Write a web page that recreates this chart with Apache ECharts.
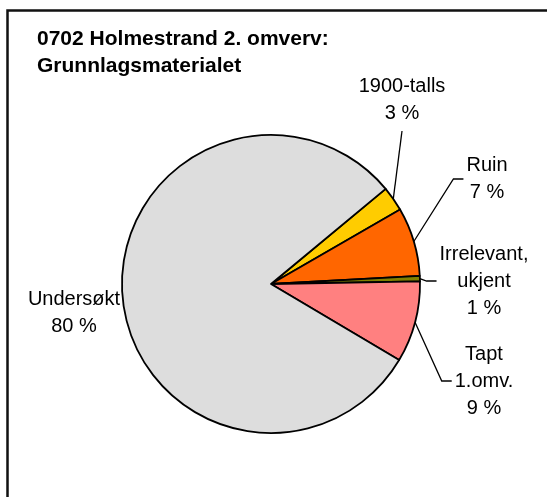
<!DOCTYPE html>
<html>
<head>
<meta charset="utf-8">
<script src="https://cdn.jsdelivr.net/npm/echarts@6/dist/echarts.min.js"></script>
<style>
  html, body { margin: 0; padding: 0; background: #fff; }
  #main { width: 547px; height: 497px; }
</style>
</head>
<body>
<div id="main"></div>
<script>
// data
var categories = ['1900-talls', 'Ruin', 'Irrelevant,\nukjent', 'Tapt\n1.omv.', 'Undersøkt'];
var shares = [2.7, 7.45, 0.6, 8.8, 80.45];
var colors = ['#FFCC00', '#FF6600', '#808000', '#FF8080', '#DDDDDD'];

// label placement (centre of each label block) and where the leader joins it
var labelX = [402, 487, 484, 484, 74];
var labelY = [100, 179, 281, 381, 313];
var joinSide = ['bottom', 'left', 'left', 'left', 'none'];

var font = '"Liberation Sans", Arial, sans-serif';

var myChart = echarts.init(document.getElementById('main'));

var seriesData = categories.map(function (name, i) {
  var item = { name: name, value: shares[i], itemStyle: { color: colors[i] } };
  if (joinSide[i] === 'none') item.labelLine = { show: false };
  return item;
});

option = {
  animation: false,
  backgroundColor: '#fff',
  title: {
    text: '0702 Holmestrand 2. omverv:\nGrunnlagsmaterialet',
    left: 37,
    top: 26,
    padding: 0,
    textStyle: {
      fontFamily: font,
      fontSize: 21,
      fontWeight: 'bold',
      color: '#000',
      lineHeight: 27
    }
  },
  graphic: [
    {
      type: 'rect',
      shape: { x: 7.5, y: 10.5, width: 700, height: 700 },
      style: { fill: 'none', stroke: '#111', lineWidth: 2.5 },
      silent: true
    }
  ],
  series: [
    {
      type: 'pie',
      center: [271, 284],
      radius: 149,
      startAngle: 39.7,
      clockwise: true,
      avoidLabelOverlap: false,
      percentPrecision: 0,
      emphasis: { disabled: true },
      itemStyle: { borderColor: '#000', borderWidth: 1.8 },
      label: {
        show: true,
        position: 'outside',
        formatter: '{b}\n{d} %',
        fontFamily: font,
        fontSize: 20,
        lineHeight: 27,
        color: '#000'
      },
      labelLine: {
        show: true,
        lineStyle: { color: '#000', width: 1.3 }
      },
      labelLayout: function (params) {
        var i = params.dataIndex;
        var w = params.labelRect.width;
        var h = params.labelRect.height;
        var x = labelX[i], y = labelY[i];
        var res = { x: x, y: y, align: 'center', verticalAlign: 'middle' };
        if (params.labelLinePoints && joinSide[i] !== 'none') {
          var p0 = params.labelLinePoints[0];
          var a;
          if (joinSide[i] === 'bottom') {
            a = [x, y + h / 2 + 4];
            res.labelLinePoints = [p0, a, a];
          } else {
            a = [x - w / 2 - 3, y];
            res.labelLinePoints = [p0, [a[0] - 10, y], a];
          }
        }
        return res;
      },
      data: seriesData
    }
  ]
};

option && myChart.setOption(option);
</script>
</body>
</html>
